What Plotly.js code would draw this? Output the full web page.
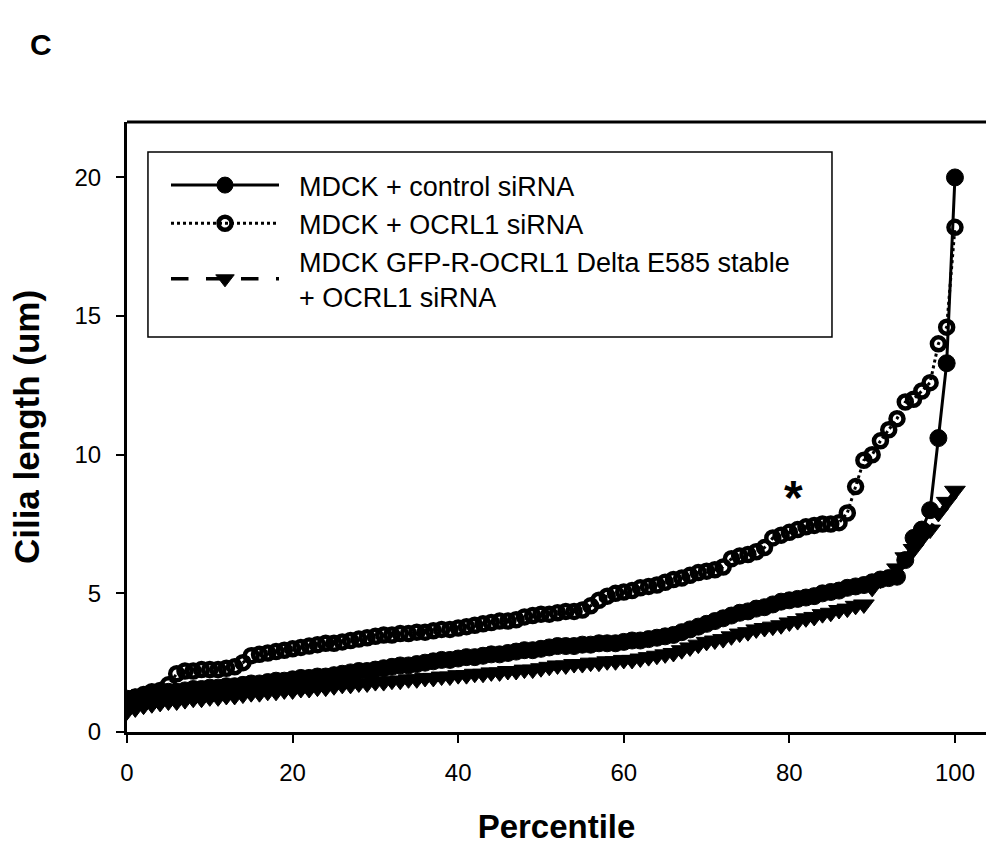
<!DOCTYPE html>
<html>
<head>
<meta charset="utf-8">
<script src="https://cdn.plot.ly/plotly-3.0.1.min.js"></script>
<style>html,body{margin:0;padding:0;background:#fff;}#chart{width:986px;height:848px;}</style>
</head>
<body>
<div id="chart"></div>
<script>
// Percentile positions
const percentile = [];
for (let i = 0; i <= 100; i++) percentile.push(i);

// MDCK + control siRNA (filled circles, solid line)
const controlSiRNA = [
  1.2, 1.25, 1.3, 1.35, 1.4, 1.45, 1.45, 1.5, 1.55, 1.55,
  1.6, 1.6, 1.65, 1.65, 1.7, 1.75, 1.75, 1.8, 1.85, 1.85,
  1.9, 1.95, 1.95, 2.0, 2.0, 2.05, 2.1, 2.15, 2.2, 2.2,
  2.25, 2.3, 2.35, 2.4, 2.4, 2.45, 2.5, 2.55, 2.6, 2.6,
  2.65, 2.7, 2.7, 2.75, 2.8, 2.8, 2.85, 2.9, 2.95, 2.95,
  3.0, 3.05, 3.1, 3.1, 3.1, 3.15, 3.15, 3.2, 3.2, 3.2,
  3.25, 3.3, 3.3, 3.35, 3.4, 3.45, 3.5, 3.6, 3.7, 3.8,
  3.9, 4.0, 4.1, 4.2, 4.3, 4.35, 4.45, 4.5, 4.6, 4.7,
  4.75, 4.8, 4.85, 4.9, 5.0, 5.05, 5.1, 5.2, 5.25, 5.3,
  5.4, 5.5, 5.55, 5.6, 6.2, 7.0, 7.3, 8.0, 10.6, 13.3, 20.0
];

// MDCK + OCRL1 siRNA (open circles, dotted line)
const ocrl1SiRNA = [
  1.15, 1.25, 1.35, 1.45, 1.5, 1.7, 2.1, 2.2, 2.2, 2.25,
  2.25, 2.25, 2.3, 2.35, 2.5, 2.75, 2.8, 2.85, 2.9, 2.95,
  3.0, 3.05, 3.1, 3.15, 3.2, 3.2, 3.25, 3.3, 3.35, 3.4,
  3.45, 3.5, 3.5, 3.55, 3.55, 3.6, 3.6, 3.65, 3.7, 3.7,
  3.75, 3.8, 3.85, 3.9, 3.95, 4.0, 4.0, 4.05, 4.15, 4.2,
  4.25, 4.25, 4.3, 4.35, 4.35, 4.4, 4.55, 4.75, 4.9, 5.0,
  5.05, 5.1, 5.2, 5.25, 5.3, 5.4, 5.5, 5.55, 5.65, 5.75,
  5.8, 5.85, 5.95, 6.25, 6.35, 6.4, 6.5, 6.65, 7.0, 7.1,
  7.2, 7.3, 7.4, 7.45, 7.5, 7.5, 7.55, 7.9, 8.85, 9.8,
  10.0, 10.5, 10.9, 11.3, 11.9, 12.0, 12.3, 12.6, 14.0, 14.6, 18.2
];

// MDCK GFP-R-OCRL1 Delta E585 stable + OCRL1 siRNA (filled down triangles, dashed line)
const deltaE585 = [
  0.75, 0.85, 0.95, 1.0, 1.05, 1.1, 1.1, 1.15, 1.2, 1.2,
  1.25, 1.25, 1.3, 1.3, 1.35, 1.4, 1.4, 1.45, 1.45, 1.5,
  1.5, 1.55, 1.55, 1.6, 1.6, 1.65, 1.7, 1.7, 1.75, 1.75,
  1.8, 1.8, 1.85, 1.85, 1.9, 1.9, 1.95, 1.95, 2.0, 2.0,
  2.05, 2.05, 2.1, 2.1, 2.15, 2.15, 2.2, 2.2, 2.25, 2.25,
  2.3, 2.35, 2.4, 2.4, 2.45, 2.45, 2.5, 2.5, 2.55, 2.55,
  2.6, 2.6, 2.65, 2.7, 2.75, 2.8, 2.85, 2.95, 3.05, 3.15,
  3.25, 3.3, 3.35, 3.45, 3.55, 3.6, 3.7, 3.75, 3.8, 3.85,
  3.95, 4.0, 4.1, 4.15, 4.25, 4.3, 4.4, 4.45, 4.55, 4.6,
  5.2, 5.5, 5.6, 5.9, 6.3, 6.6, 7.0, 7.3, 7.9, 8.3, 8.7
];

const seriesNames = [
  ["MDCK + control siRNA"],
  ["MDCK + OCRL1 siRNA"],
  ["MDCK GFP-R-OCRL1 Delta E585 stable", "+ OCRL1 siRNA"]
];
const xTicks = [0, 20, 40, 60, 80, 100];
const yTicks = [0, 5, 10, 15, 20];

const FONT = "'Liberation Sans', Arial, sans-serif";
const PAD = "\u00a0\u00a0";
const legendName = lines => lines.map(s => PAD + s).join("<br>");

const traces = [
  {
    x: percentile, y: controlSiRNA, name: legendName(seriesNames[0]), type: "scatter", mode: "lines+markers",
    line: {color: "#000", width: 3, dash: "solid"},
    marker: {symbol: "circle", size: 17, color: "#000", line: {color: "#000", width: 1}}
  },
  {
    x: percentile, y: ocrl1SiRNA, name: legendName(seriesNames[1]), type: "scatter", mode: "lines+markers",
    line: {color: "#000", width: 3, dash: "dot"},
    marker: {symbol: "circle-open", size: 13, color: "#000", line: {color: "#000", width: 4.5}}
  },
  {
    x: percentile, y: deltaE585, name: legendName(seriesNames[2]), type: "scatter", mode: "lines+markers",
    line: {color: "#000", width: 3.5, dash: "longdash"},
    marker: {symbol: "triangle-down", size: 18, color: "#000", line: {color: "#000", width: 1}}
  }
];

const layout = {
  width: 986, height: 848,
  margin: {l: 127, r: 0, t: 122, b: 116},
  paper_bgcolor: "#fff", plot_bgcolor: "#fff",
  font: {family: FONT, color: "#000", size: 24},
  showlegend: true,
  legend: {
    x: 0.0454, y: 0.936, xanchor: "left", yanchor: "top",
    borderwidth: 0, bgcolor: "rgba(255,255,255,0)",
    font: {family: FONT, size: 27, color: "#000"},
    itemwidth: 108, traceorder: "normal"
  },
  xaxis: {
    range: [0, 103.75], tickvals: xTicks, ticktext: xTicks.map(String),
    showgrid: false, zeroline: false,
    showline: true, linecolor: "#000", linewidth: 3,
    ticks: "outside", ticklen: 8, tickwidth: 2, tickcolor: "#000",
    ticklabelstandoff: 9,
    tickfont: {family: FONT, size: 24, color: "#000"},
    title: {text: "<b>Percentile</b>", font: {family: FONT, size: 33, color: "#000"}, standoff: 31}
  },
  yaxis: {
    range: [0, 22], tickvals: yTicks, ticktext: yTicks.map(String),
    showgrid: false, zeroline: false,
    showline: true, linecolor: "#000", linewidth: 3,
    ticks: "outside", ticklen: 8, tickwidth: 2, tickcolor: "#000",
    ticklabelstandoff: 10,
    tickfont: {family: FONT, size: 24, color: "#000"},
    title: {text: "<b>Cilia length (um)</b>", font: {family: FONT, size: 35, color: "#000"}, standoff: 25}
  },
  shapes: [
    {type: "line", xref: "paper", yref: "paper", x0: 0, x1: 1, y0: 1, y1: 1,
     line: {color: "#000", width: 3}},
    {type: "rect", xref: "paper", yref: "paper", x0: 0.0244, x1: 0.8207, y0: 0.6475, y1: 0.9508,
     line: {color: "#000", width: 1.5}, fillcolor: "rgba(0,0,0,0)", layer: "above"}
  ],
  annotations: [
    {text: "<b>C</b>", xref: "paper", yref: "paper", x: -0.1001, y: 1.127, xanchor: "center", yanchor: "middle",
     showarrow: false, font: {family: FONT, size: 30, color: "#000"}},
    {text: "<b>*</b>", xref: "x", yref: "y", x: 80.5, y: 8.45, xanchor: "center", yanchor: "middle",
     showarrow: false, font: {family: FONT, size: 48, color: "#000"}}
  ]
};

Plotly.newPlot("chart", traces, layout, {displayModeBar: false, staticPlot: true});
</script>
</body>
</html>
